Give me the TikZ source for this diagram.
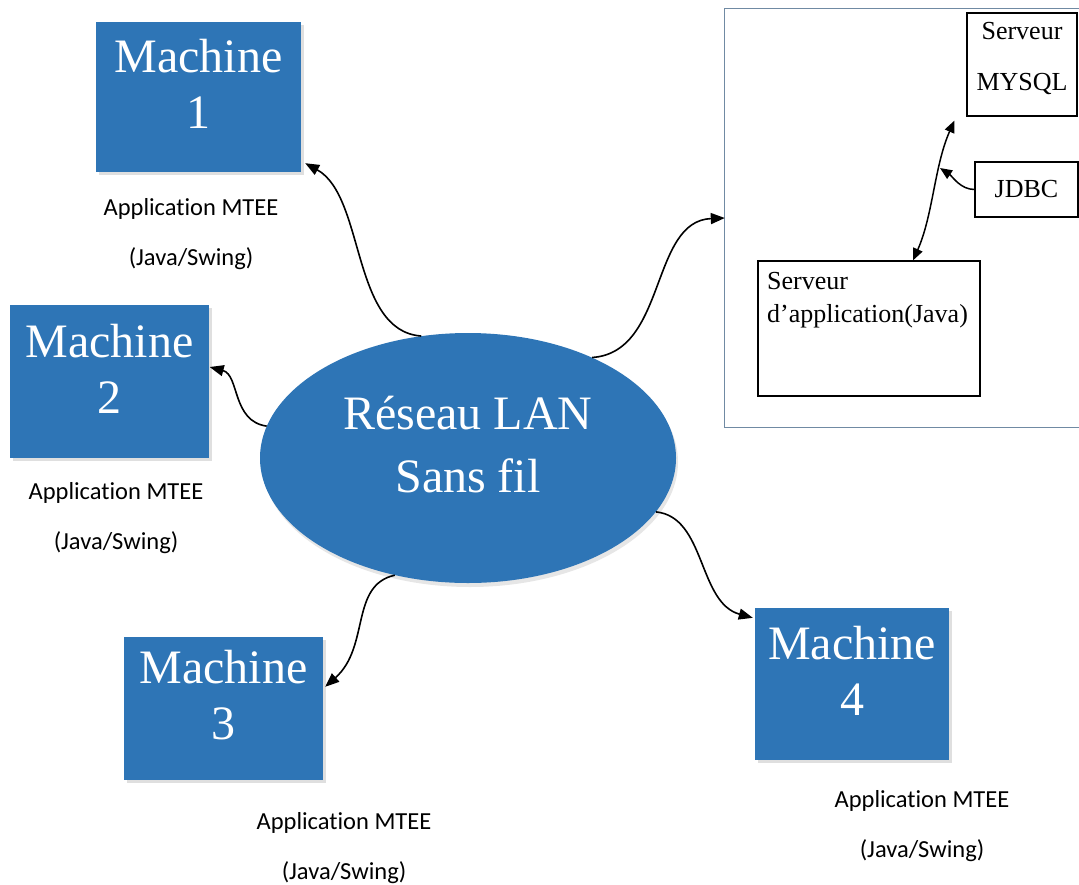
\documentclass[tikz,border=0pt]{standalone}
\usepackage{fontspec}
\setmainfont{Liberation Serif}
\newfontfamily\labelfont[Ligatures=NoCommon]{Carlito}
\usetikzlibrary{arrows.meta,shadows,calc,shapes.geometric}
\definecolor{boxblue}{RGB}{46,117,182}
\definecolor{frameblue}{RGB}{112,138,163}

\tikzset{
  machine/.style={rectangle, fill=boxblue, inner sep=0pt,
    drop shadow={opacity=0.25, shadow xshift=3pt, shadow yshift=-3pt}},
  bigtext/.style={text=white, align=center, inner sep=0pt,
    font=\fontsize{48}{56}\selectfont},
  applabel/.style={align=center, inner sep=0pt,
    font=\labelfont\fontsize{24.5}{50}\selectfont},
  conn/.style={-{Triangle[length=14pt,width=11pt]}, line width=1.6pt},
  innerconn/.style={{Triangle[length=12pt,width=10pt]}-{Triangle[length=12pt,width=10pt]}, line width=1.5pt},
  srvbox/.style={rectangle, draw=black, line width=1.2pt, inner sep=0pt},
  srvtext/.style={inner sep=0pt, font=\fontsize{26}{33}\selectfont},
}

\begin{document}
\begin{tikzpicture}[x=1pt,y=1pt]
\useasboundingbox (0,0) rectangle (1079,-884);

% central wireless network
\node[ellipse, fill=boxblue, minimum width=416pt, minimum height=250pt, inner sep=0pt,
      drop shadow={opacity=0.2, shadow xshift=2pt, shadow yshift=-4pt}] (ell) at (468,-458) {};
\node[bigtext, font=\fontsize{48}{63}\selectfont] (ellt) at ($(ell)+(0,13)$) {Réseau LAN\\Sans fil};

% client machines
\node[machine, minimum width=205pt, minimum height=150pt] (m1) at (198.5,-97) {};
\node[bigtext] (m1t) at ($(m1)+(0,13)$) {Machine\\1};
\node[applabel] (lab1) at (191,-234) {Application MTEE\\(Java/Swing)};

\node[machine, minimum width=199pt, minimum height=153pt] (m2) at (109.5,-381.5) {};
\node[bigtext] (m2t) at ($(m2)+(0,13)$) {Machine\\2};
\node[applabel] (lab2) at (116,-518) {Application MTEE\\(Java/Swing)};

\node[machine, minimum width=199pt, minimum height=143pt] (m3) at (223.5,-708.5) {};
\node[bigtext] (m3t) at ($(m3)+(0,13)$) {Machine\\3};
\node[applabel] (lab3) at (344,-848) {Application MTEE\\(Java/Swing)};

\node[machine, minimum width=194pt, minimum height=152pt] (m4) at (852,-684) {};
\node[bigtext] (m4t) at ($(m4)+(0,13)$) {Machine\\4};
\node[applabel] (lab4) at (922,-826) {Application MTEE\\(Java/Swing)};

% server area (open on the right)
\node[rectangle, minimum width=354pt, minimum height=418pt, inner sep=0pt] (srv) at (902,-218) {};
\draw[frameblue, line width=1.3pt] (srv.north east) -- (srv.north west) -- (srv.south west) -- (srv.south east);

\node[srvbox, minimum width=110pt, minimum height=103pt] (mysql) at (1022,-64.5) {};
\node[srvtext, align=center, font=\fontsize{26}{51}\selectfont] (mysqlt) at (1022,-58) {Serveur\\MYSQL};

\node[srvbox, minimum width=103pt, minimum height=55pt, srvtext] (jdbc) at (1026.5,-189.5) {JDBC};

\node[srvbox, minimum width=222pt, minimum height=135pt] (app) at (869,-328.5) {};
\node[srvtext, align=left, anchor=north west] (appt) at (767,-272) {Serveur\\d’application(Java)};

% connectors from the network
\draw[conn] (ell.111) .. controls +(-70,5) and +(60,-33) .. ($(m1.south east)+(4,9)$);
\draw[conn] (ell.171) .. controls +(-35,5) and +(30,-8) .. ($(m2.east)+(0.5,14.5)$);
\draw[conn] (ell.238) .. controls +(-45,-10) and +(45,40) .. ($(m3.north east)+(2,-50)$);
\draw[conn] (ell.39) .. controls +(75,5) and +(-75,-3) .. (srv.west);
\draw[conn] (ell.344) .. controls +(50,-5) and +(-55,15) .. ($(m4.north west)+(-2,-10)$);

% links inside the server area
\draw[innerconn] ($(app.north)+(44,0)$) .. controls +(20,45) and +(-20,-45) .. ($(mysql.south west)+(-12,-4)$);
\coordinate (jdbcend) at (940,-168);
\draw[-{Triangle[length=12pt,width=10pt]}, line width=1.5pt] (jdbc.west) .. controls +(-14,0) and +(12,-8) .. (jdbcend);
\end{tikzpicture}
\end{document}
